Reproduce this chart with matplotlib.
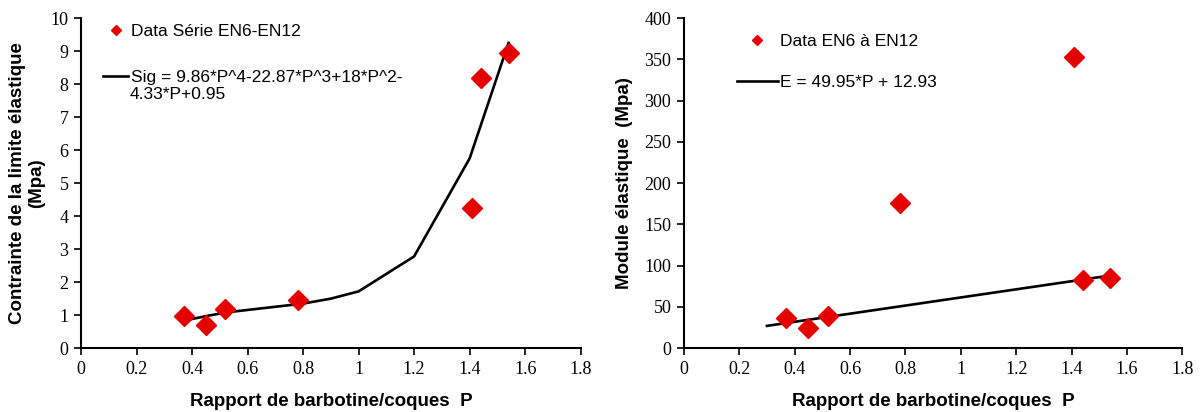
import matplotlib.pyplot as plt
import numpy as np

# donnees
p_pts = [0.37, 0.45, 0.52, 0.78, 1.41, 1.44, 1.54]
sig_pts = [0.97, 0.70, 1.20, 1.45, 4.25, 8.20, 8.95]
sig_fit_p = [0.37, 0.45, 0.52, 0.80, 0.90, 1.00, 1.20, 1.40, 1.54]
sig_fit = [0.83, 0.97, 1.08, 1.35, 1.50, 1.72, 2.78, 5.75, 9.25]

e_pts = [37, 24, 39, 176, 353, 83, 85]
e_fit_p = [0.30, 1.54]
e_fit = [27, 88]

xticks = [0, 0.2, 0.4, 0.6, 0.8, 1, 1.2, 1.4, 1.6, 1.8]
red = "#e50000"
fsz = 12.5

fig = plt.figure(figsize=(12.04, 4.12), dpi=100)
ax1 = fig.add_axes([0.0673, 0.155, 0.415, 0.801])
ax2 = fig.add_axes([0.568, 0.155, 0.414, 0.801])


def style(ax, ymax, ystep):
    ax.set_xlim(0, 1.8)
    ax.set_ylim(0, ymax)
    ax.set_xticks(xticks)
    ax.set_xticklabels([f"{t:g}" for t in xticks])
    ax.set_yticks(np.arange(0, ymax + ystep / 2, ystep))
    for s in ["top", "right"]:
        ax.spines[s].set_visible(False)
    for s in ["left", "bottom"]:
        ax.spines[s].set_linewidth(1.5)
    ax.tick_params(direction="out", length=5, width=1.2, labelsize=13, pad=4)
    for lab in ax.get_xticklabels() + ax.get_yticklabels():
        lab.set_family("Liberation Serif")
    ax.set_xlabel("Rapport de barbotine/coques  P", fontsize=13.5, fontweight="bold",
                  family="Liberation Sans", labelpad=11)


# graphe gauche
ax1.plot(sig_fit_p, sig_fit, color="black", lw=1.9,
         label="Sig = 9.86*P^4-22.87*P^3+18*P^2-")
ax1.plot(p_pts, sig_pts, "D", color=red, ms=10, ls="none", label="Data Série EN6-EN12")
style(ax1, 10, 1)
ax1.set_ylabel("Contrainte de la limite élastique\n(Mpa)", fontsize=13.5, fontweight="bold",
               family="Liberation Sans", labelpad=4, linespacing=1.15)
h, l = ax1.get_legend_handles_labels()
ax1.legend(h[::-1], l[::-1], loc="upper left", bbox_to_anchor=(0.044, 0.982), frameon=False,
           borderaxespad=0, borderpad=0, markerscale=0.5, handlelength=1.45,
           handletextpad=0.15, labelspacing=1.77,
           prop={"family": "Liberation Sans", "size": fsz})
ax1.text(0.098, 0.792, "4.33*P+0.95", transform=ax1.transAxes, va="top", ha="left",
         family="Liberation Sans", fontsize=fsz)

# graphe droite
ax2.plot(e_fit_p, e_fit, color="black", lw=1.9, label="E = 49.95*P + 12.93")
ax2.plot(p_pts, e_pts, "D", color=red, ms=10, ls="none", label="Data EN6 à EN12")
style(ax2, 400, 50)
ax2.set_ylabel("Module élastique  (Mpa)", fontsize=13.5, fontweight="bold",
               family="Liberation Sans", labelpad=8)
h, l = ax2.get_legend_handles_labels()
ax2.legend(h[::-1], l[::-1], loc="upper left", bbox_to_anchor=(0.106, 0.953), frameon=False,
           borderaxespad=0, borderpad=0, markerscale=0.5, handlelength=2.36,
           handletextpad=0.12, labelspacing=1.5,
           prop={"family": "Liberation Sans", "size": fsz})

fig.savefig("out.png", dpi=100)
